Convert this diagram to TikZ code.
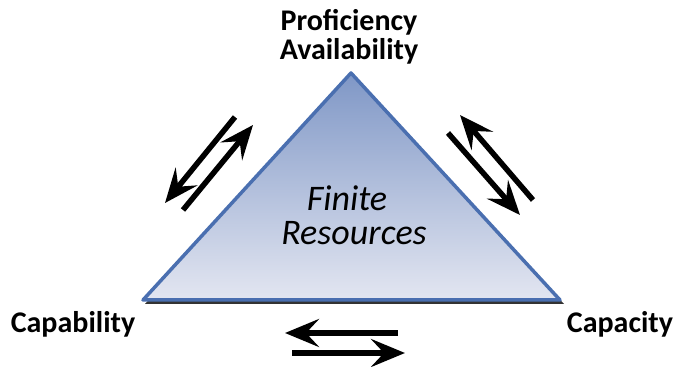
\documentclass[tikz,border=0pt]{standalone}
\usepackage{fontspec}
\setmainfont{Carlito}
\usetikzlibrary{arrows.meta}
\usetikzlibrary{positioning}

\definecolor{edgeblue}{HTML}{4A6FB0}
\definecolor{topblue}{HTML}{7F97C6}
\definecolor{lowblue}{HTML}{E3E6F1}

\tikzset{
  corner/.style={font=\fontsize{30}{31}\selectfont\bfseries, anchor=base, inner sep=0pt},
  swap/.style={line width=5.5pt, -{Stealth[length=34pt,width=28pt,inset=13pt]}},
}

\begin{document}
\begin{tikzpicture}[x=1pt,y=1pt]
  \useasboundingbox (0,0) rectangle (673,367);
  % the triangle
  \coordinate (top) at (351,294);
  \coordinate (left) at (143,67);
  \coordinate (right) at (560,67);
  \fill[black!80] ([shift={(2,-4)}]top) -- ([shift={(2,-4)}]left) -- ([shift={(4,-4)}]right) -- cycle;
  \shade[top color=topblue, bottom color=lowblue, draw=edgeblue, line width=3.5pt, line join=round]
    (top) -- (left) -- (right) -- cycle;
  \node[font=\fontsize{36}{34}\selectfont\itshape, align=center, inner sep=0pt] (finite) at (354,152)
    {Finite\hspace*{14pt}\\Resources};

  % corner labels
  \node[corner] (prof) at (349,336) {Proficiency};
  \node[corner] (avail) at (349,307) {Availability};
  \node[corner] (capab) at (73,34) {Capability};
  \node[corner] (capac) at (620,34) {Capacity};

  % arrow pairs
  \coordinate (l1) at (235,250); \coordinate (l2) at (165,164);
  \coordinate (l3) at (183,157); \coordinate (l4) at (253,242);
  \coordinate (r1) at (533,167); \coordinate (r2) at (460,252);
  \coordinate (r3) at (448,234); \coordinate (r4) at (520,152);
  \coordinate (b1) at (398,34); \coordinate (b2) at (285,34);
  \coordinate (b3) at (292,14); \coordinate (b4) at (405,14);
  \draw[swap] (l1) -- (l2);
  \draw[swap] (l3) -- (l4);
  \draw[swap] (r1) -- (r2);
  \draw[swap] (r3) -- (r4);
  \draw[swap] (b1) -- (b2);
  \draw[swap] (b3) -- (b4);
\end{tikzpicture}
\end{document}
